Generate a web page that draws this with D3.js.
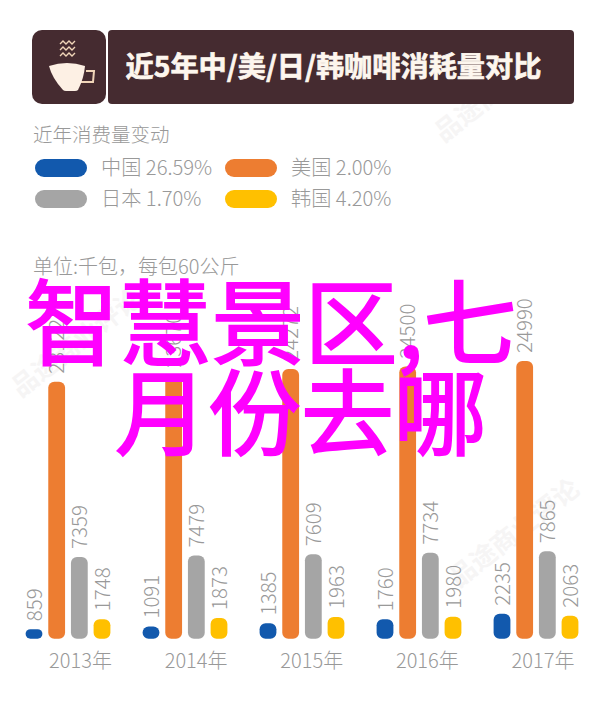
<!DOCTYPE html>
<html>
<head>
<meta charset="utf-8">
<style>
  body { margin: 0; background: #fff; }
  svg { display: block; }
  text { font-family: "Noto Sans CJK SC", "Noto Sans", sans-serif; }
</style>
</head>
<body>
<div id="chart"></div>
<script src="https://cdn.jsdelivr.net/npm/d3@7"></script>
<script>
const years = ["2013年", "2014年", "2015年", "2016年", "2017年"];
const countries = ["中国", "美国", "日本", "韩国"];
const china = [859, 1091, 1385, 1760, 2235];
const usa = [23122, 23670, 24272, 24500, 24990];
const japan = [7359, 7479, 7609, 7734, 7865];
const korea = [1748, 1873, 1963, 1980, 2063];
const colors = ["#1259ad", "#ed7d31", "#a5a5a5", "#ffc000"];
const legendLabels = ["中国 26.59%", "美国 2.00%", "日本 1.70%", "韩国 4.20%"];
const series = [china, usa, japan, korea];

const width = 600;
const height = 713;
const brown = "#452b30";
const grey = "#999";

const svg = d3.select("#chart").append("svg")
  .attr("width", width)
  .attr("height", height);

// --- Faint watermark behind everything ---
[[505, 95], [520, 540], [82, 350]].forEach(([wx, wy]) => {
  svg.append("text")
    .attr("transform", `translate(${wx},${wy}) rotate(-38)`)
    .attr("text-anchor", "middle")
    .attr("fill", "#f6f5f5")
    .style("font-size", "26px")
    .style("font-weight", 700)
    .text("品途商业评论");
});

// --- Title banner ---
svg.append("rect").attr("x", 32).attr("y", 30).attr("width", 74).attr("height", 74).attr("rx", 10).attr("fill", brown);
svg.append("rect").attr("x", 108).attr("y", 30).attr("width", 466).attr("height", 74).attr("rx", 4).attr("fill", brown);
svg.append("text")
  .attr("x", 333.5).attr("y", 77)
  .attr("text-anchor", "middle")
  .attr("fill", "#fdf6ee")
  .attr("stroke", "#fdf6ee")
  .attr("stroke-width", 0.7)
  .style("font-size", "28.2px")
  .style("font-weight", 700)
  .text("近5年中/美/日/韩咖啡消耗量对比");

// --- Cup icon ---
const cup = svg.append("g");
cup.append("path")
  .attr("d", "M86 71 L94 71 L93 82 L80 82")
  .attr("fill", "none").attr("stroke", "#f0d5b8").attr("stroke-width", 2);
cup.append("path")
  .attr("d", "M49 66 Q67 60 85 66 Q84 78 78 90 Q77 91 75 91 L66 91 Q64 91 63 90 Q52 78 49 66 Z")
  .attr("fill", "#fdf0e4");
[44, 50, 56].forEach((sy) => {
  cup.append("path")
    .attr("d", `M60 ${sy} l3 -3 l3 3 l3 -3 l3 3 l3 -3`)
    .attr("fill", "none").attr("stroke", "#f0d5b8").attr("stroke-width", 1.4);
});

// --- Legend ---
svg.append("text")
  .attr("x", 33).attr("y", 142)
  .attr("fill", grey)
  .style("font-size", "19.5px")
  .style("font-weight", 300)
  .text("近年消费量变动");

const legendCols = [35, 225, 35, 225];
const legendRows = [159, 159, 190, 190];
countries.forEach((c, i) => {
  svg.append("rect")
    .attr("x", legendCols[i]).attr("y", legendRows[i])
    .attr("width", 52).attr("height", 18).attr("rx", 9)
    .attr("fill", colors[i]);
  svg.append("text")
    .attr("x", legendCols[i] + 66).attr("y", legendRows[i] + 16)
    .attr("fill", grey)
    .style("font-size", "20.2px")
    .style("font-weight", 300)
    .text(legendLabels[i]);
});

svg.append("text")
  .attr("x", 33).attr("y", 274)
  .attr("fill", grey)
  .style("font-size", "20px")
  .style("font-weight", 300)
  .text("单位:千包，每包60公斤");

// --- Bars ---
const y = d3.scaleLinear().domain([0, 24990]).range([638.7, 361]);
const x0 = d3.scaleBand().domain(years).range([34, 34 + 117 * 5]);
const x1 = d3.scalePoint().domain(countries).range([0, 68]);
const xLabel = d3.scalePoint().domain(years).range([80.5, 543]);
const barW = 16.8;

years.forEach((year, yi) => {
  const g = svg.append("g");
  countries.forEach((c, ci) => {
    const v = series[ci][yi];
    const cx = x0(year) + x1(c);
    const top = y(v);
    g.append("rect")
      .attr("x", cx - barW / 2).attr("y", top)
      .attr("width", barW).attr("height", y(0) - top)
      .attr("rx", Math.min(6, (y(0) - top) / 2))
      .attr("fill", colors[ci]);
    g.append("text")
      .attr("transform", `translate(${cx + 7.5},${top - 8}) rotate(-90)`)
      .attr("fill", grey)
      .style("font-size", "20.5px")
      .style("font-weight", 300)
      .text(v);
  });
  g.append("text")
    .attr("x", xLabel(year))
    .attr("y", 668)
    .attr("text-anchor", "middle")
    .attr("fill", grey)
    .style("font-size", "20px")
    .style("font-weight", 300)
    .text(year);
});

// --- Magenta overlay text ---
const overlay = ["智慧景区,七", "月份去哪"];
const overlayX = [271, 301];
const overlayY = [358, 448];
overlay.forEach((line, i) => {
  svg.append("text")
    .attr("x", overlayX[i]).attr("y", overlayY[i])
    .attr("text-anchor", "middle")
    .attr("fill", "#ff00ff")
    .attr("stroke", "#ff00ff")
    .attr("stroke-width", 2)
    .style("font-size", "93px")
    .style("font-weight", 400)
    .text(line);
});
</script>
</body>
</html>
